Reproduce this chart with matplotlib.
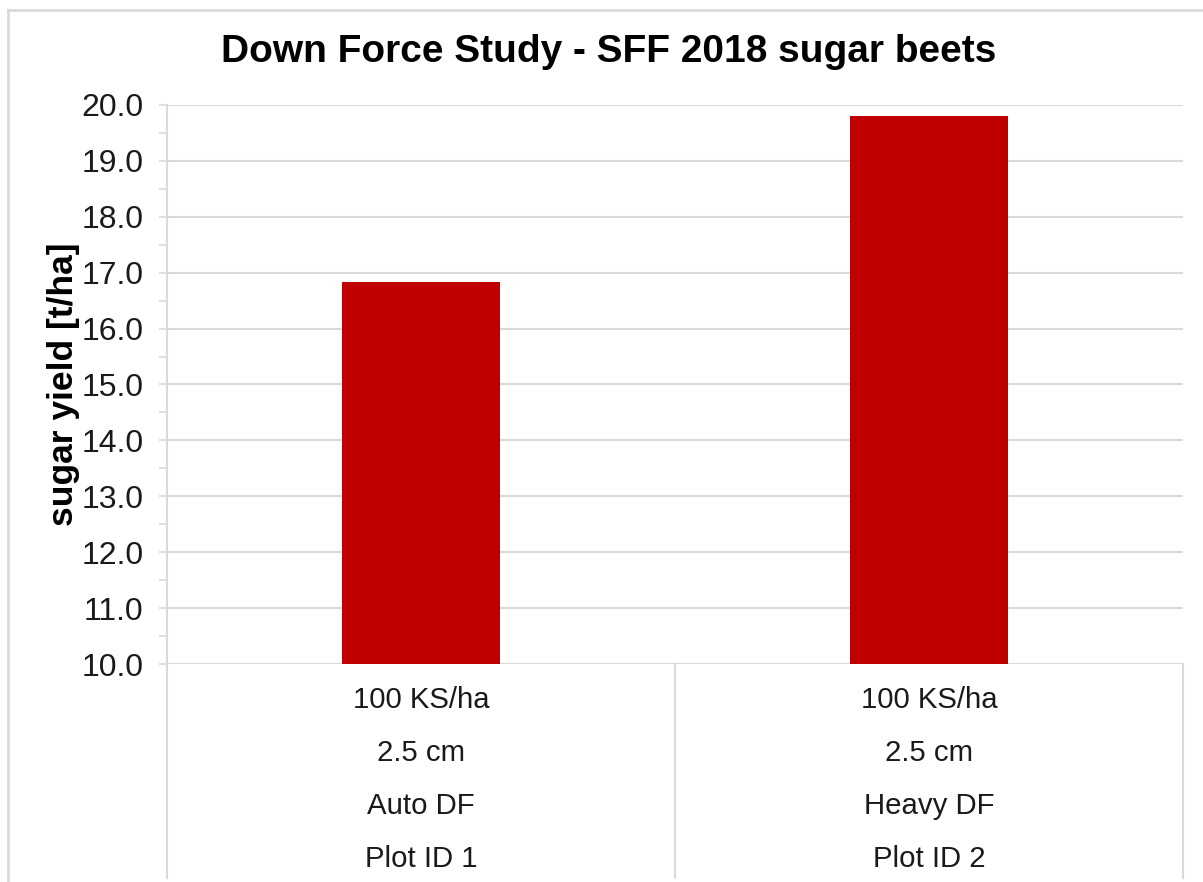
import matplotlib
matplotlib.use("Agg")
import matplotlib.pyplot as plt
from matplotlib.lines import Line2D
from matplotlib.ticker import MultipleLocator, FormatStrFormatter

# data
seed_rate = ["100 KS/ha", "100 KS/ha"]
depth = ["2.5 cm", "2.5 cm"]
down_force = ["Auto DF", "Heavy DF"]
plot_id = ["Plot ID 1", "Plot ID 2"]
sugar_yield = [16.83, 19.80]

plt.rcParams['font.family'] = ['Liberation Sans', 'DejaVu Sans']

W, H = 1203, 882
fig = plt.figure(figsize=(W / 100, H / 100), dpi=100)
grid_col = "#D9D9D9"

# outer chart frame (only left/top visible in the crop)
fig.add_artist(Line2D([8 / W, 8 / W], [0, 1 - 10 / H], transform=fig.transFigure, color=grid_col, lw=2))
fig.add_artist(Line2D([8 / W, 1], [1 - 10 / H, 1 - 10 / H], transform=fig.transFigure, color=grid_col, lw=2))

ax_l, ax_r, ax_t, ax_b = 167, 1183, 105, 664
ax = fig.add_axes([ax_l / W, 1 - ax_b / H, (ax_r - ax_l) / W, (ax_b - ax_t) / H])

x = list(range(len(sugar_yield)))
ax.bar(x, [v - 10 for v in sugar_yield], bottom=10, width=0.31, color="#C00000", zorder=3)

ax.set_xlim(-0.5, 1.5)
ax.set_ylim(10, 20)
ax.yaxis.set_major_locator(MultipleLocator(1))
ax.yaxis.set_minor_locator(MultipleLocator(0.5))
ax.yaxis.set_major_formatter(FormatStrFormatter("%.1f"))
ax.grid(axis="y", which="major", color=grid_col, lw=1.5, zorder=0)
ax.tick_params(axis="y", which="both", direction="out", length=6, width=1.2, color=grid_col,
               labelsize=23, pad=11, labelcolor="#1a1a1a")
ax.set_xticks([])
for s in ["top", "right", "bottom"]:
    ax.spines[s].set_visible(False)
ax.spines["left"].set_color(grid_col)
ax.spines["left"].set_linewidth(1.5)

ax.set_ylabel("sugar yield [t/ha]", fontsize=25.5, fontweight="bold", labelpad=1)
fig.text(0.506, 1 - 52 / H, "Down Force Study - SFF 2018 sugar beets", ha="center", va="center",
         fontsize=28, fontweight="bold")

# multi-level category labels below the axis
ah = ax_b - ax_t
rows = [seed_rate, depth, down_force, plot_id]
row_px = [700, 753, 806, 859]
for labels, py in zip(rows, row_px):
    for xi, lab in zip(x, labels):
        ax.text(xi, (ax_b - py) / ah, lab, transform=ax.get_xaxis_transform(),
                ha="center", va="center", fontsize=21.2, color="#1a1a1a")

bottom_frac = (ax_b - 878) / ah
for xa in [0, 0.5, 1.0]:
    ax.add_line(Line2D([xa, xa], [0, bottom_frac], transform=ax.transAxes, color=grid_col,
                       lw=1.5, clip_on=False))

fig.savefig("out.png", dpi=100)
